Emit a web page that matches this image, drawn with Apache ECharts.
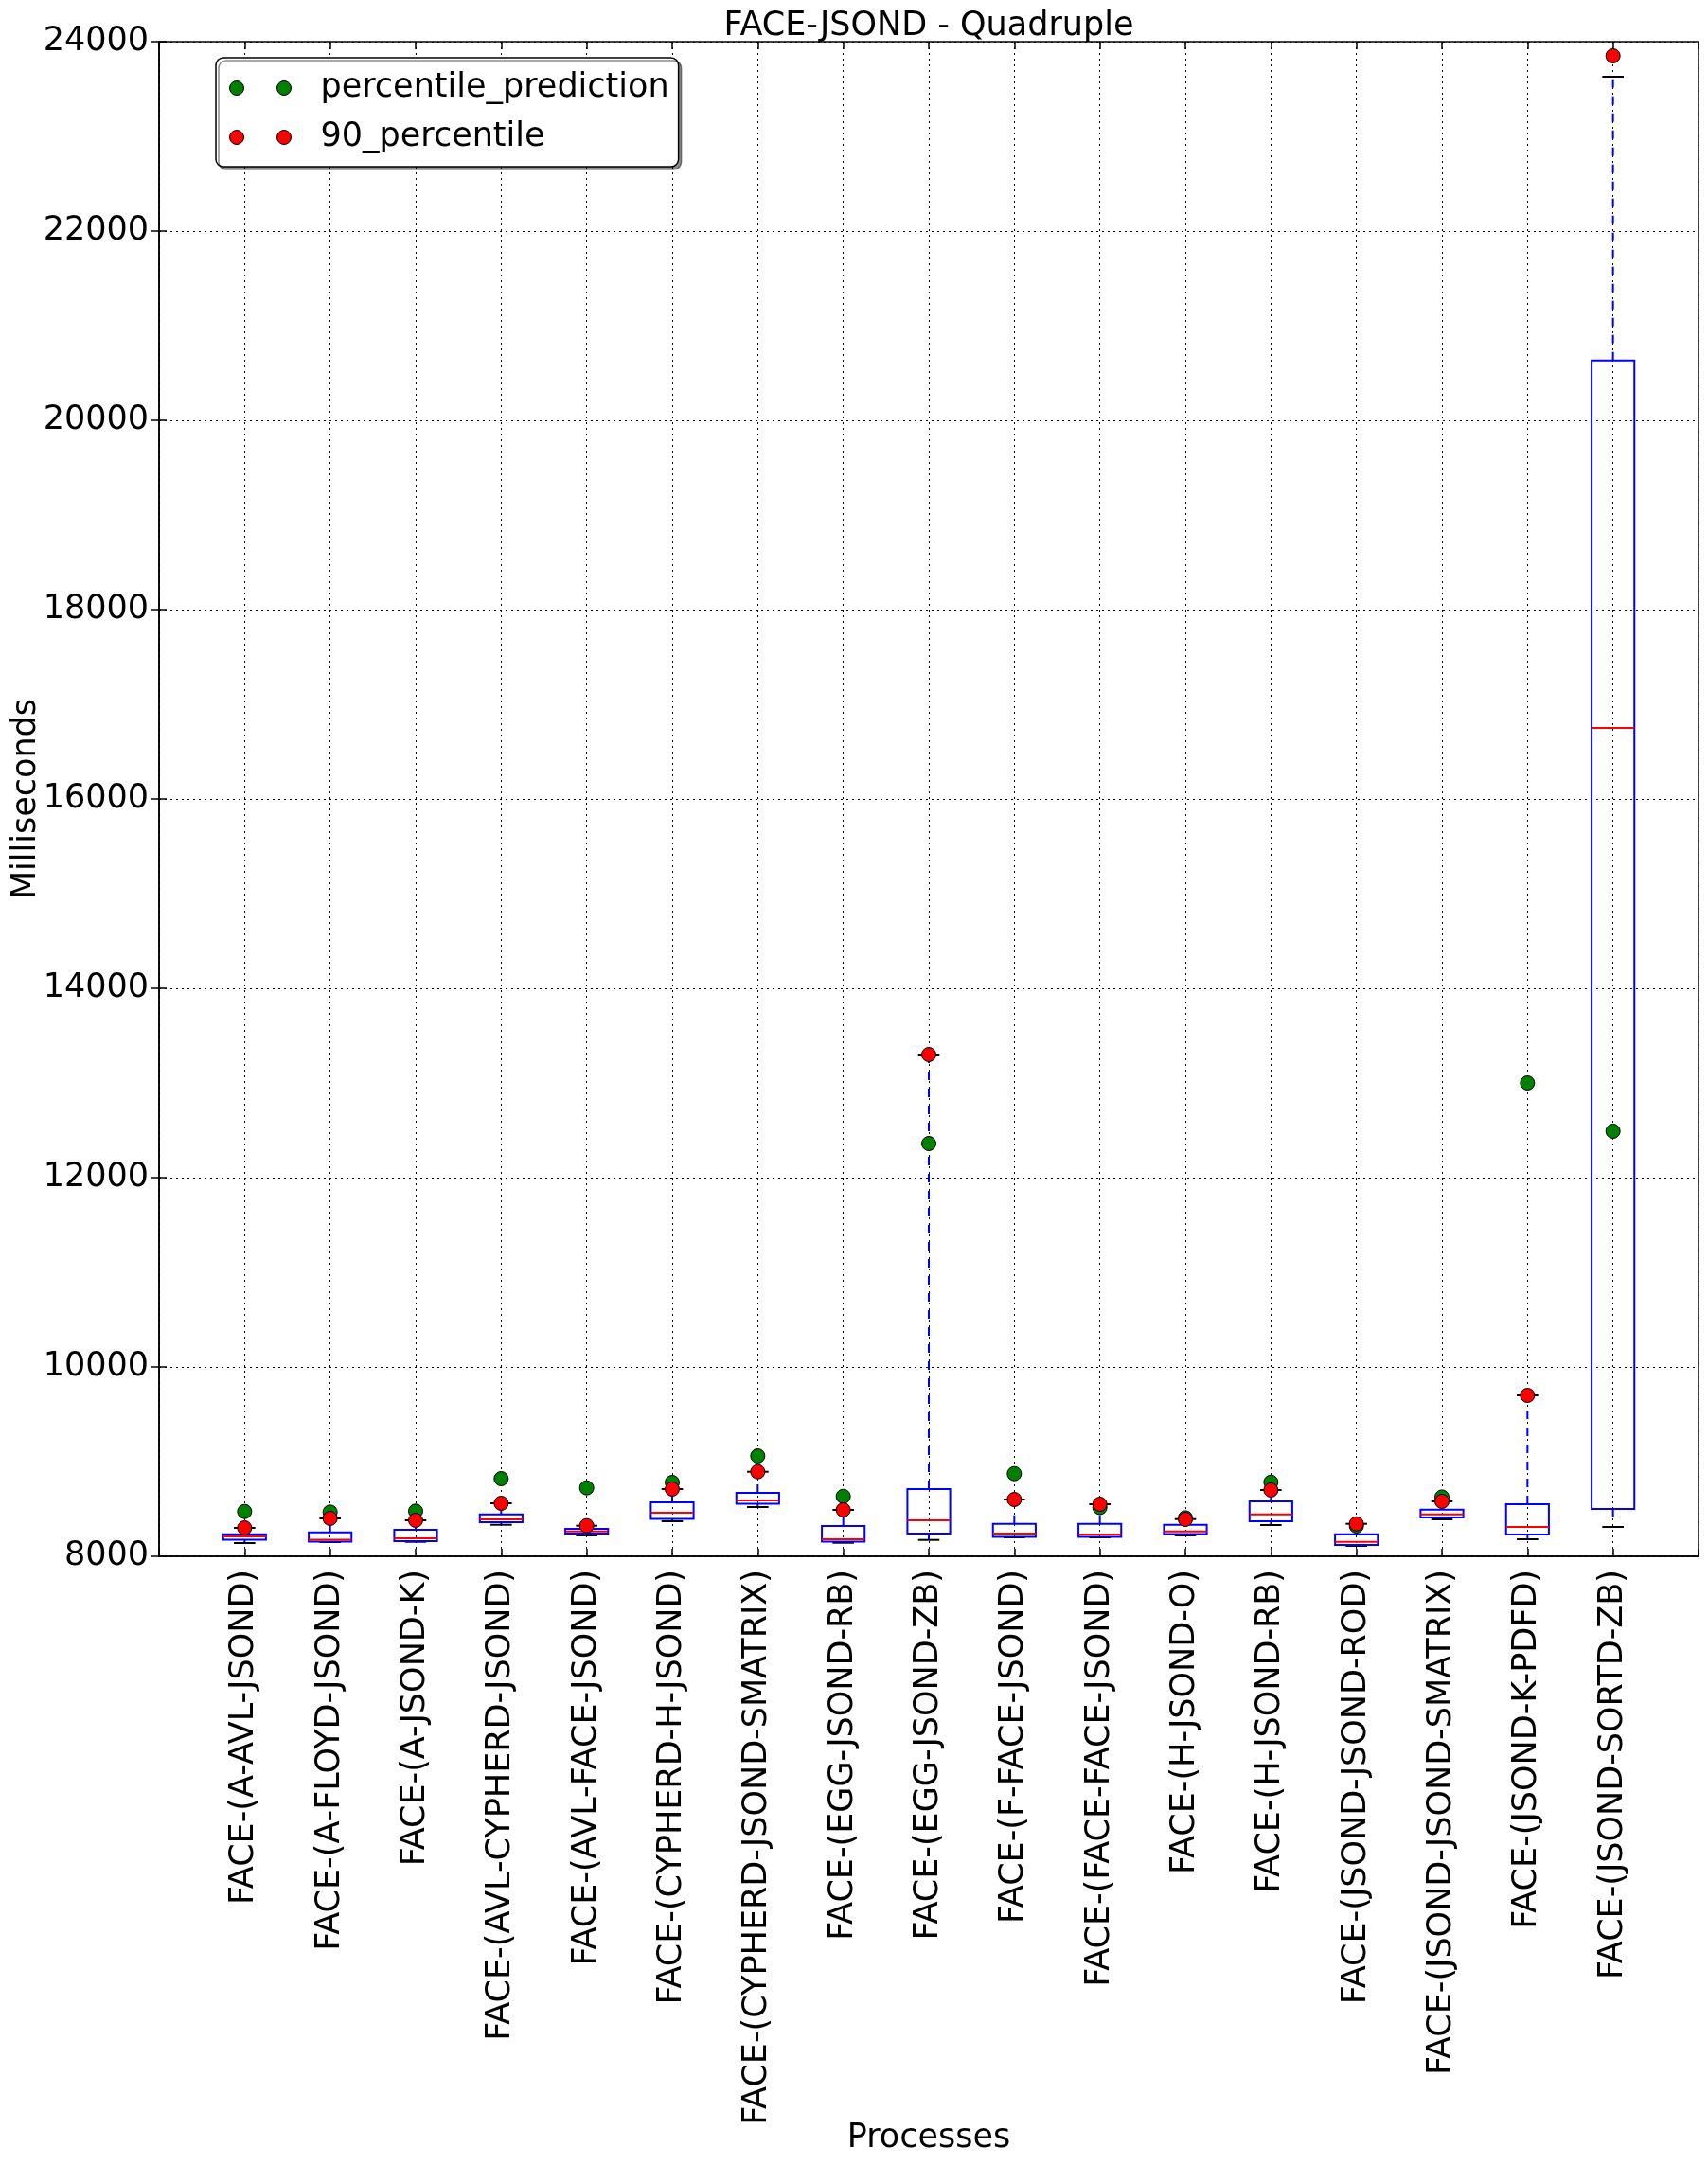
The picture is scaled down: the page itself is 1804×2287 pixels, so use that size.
<!DOCTYPE html>
<html>
<head>
<meta charset="utf-8">
<script src="https://cdn.jsdelivr.net/npm/echarts/dist/echarts.min.js"></script>
<style>
html,body{margin:0;padding:0;background:#fff;}
#chart{width:1804px;height:2287px;}
</style>
</head>
<body>
<div id="chart"></div>
<script>
var categories = ['FACE-(A-AVL-JSOND)','FACE-(A-FLOYD-JSOND)','FACE-(A-JSOND-K)','FACE-(AVL-CYPHERD-JSOND)','FACE-(AVL-FACE-JSOND)','FACE-(CYPHERD-H-JSOND)','FACE-(CYPHERD-JSOND-SMATRIX)','FACE-(EGG-JSOND-RB)','FACE-(EGG-JSOND-ZB)','FACE-(F-FACE-JSOND)','FACE-(FACE-FACE-JSOND)','FACE-(H-JSOND-O)','FACE-(H-JSOND-RB)','FACE-(JSOND-JSOND-ROD)','FACE-(JSOND-JSOND-SMATRIX)','FACE-(JSOND-K-PDFD)','FACE-(JSOND-SORTD-ZB)'];
var whiskerLow  = [8140, 8150, 8153, 8333, 8220, 8370, 8520, 8143, 8173, 8200, 8200, 8220, 8330, 8110, 8390, 8180, 8310];
var q1          = [8176, 8156, 8160, 8360, 8240, 8396, 8556, 8156, 8240, 8206, 8206, 8236, 8370, 8120, 8410, 8230, 8500];
var median      = [8210, 8176, 8190, 8390, 8263, 8460, 8590, 8180, 8380, 8240, 8230, 8263, 8443, 8153, 8443, 8310, 16750];
var q3          = [8233, 8253, 8280, 8443, 8290, 8570, 8670, 8320, 8710, 8343, 8343, 8333, 8580, 8233, 8493, 8550, 20633];
var whiskerHigh = [8300, 8400, 8380, 8560, 8323, 8710, 8893, 8490, 13300, 8600, 8550, 8393, 8700, 8343, 8580, 9700, 23630];
var prediction  = [8473, 8467, 8477, 8820, 8723, 8780, 9060, 8633, 12360, 8873, 8515, 8406, 8783, 8320, 8626, 13000, 12490];
var p90         = [8300, 8400, 8380, 8560, 8323, 8710, 8893, 8490, 13300, 8600, 8550, 8390, 8700, 8343, 8580, 9700, 23850];
var yTicks = [8000, 10000, 12000, 14000, 16000, 18000, 20000, 22000, 24000];

var FONT = 'DejaVu Sans';
var FS = 35;
var boxData = categories.map(function (c, i) {
  return [i + 1, whiskerLow[i], q1[i], median[i], q3[i], whiskerHigh[i]];
});
var predData = prediction.map(function (v, i) { return [i + 1, v]; });
var p90Data = p90.map(function (v, i) { return [i + 1, v]; });
var twoDots = 'path://M0,7.5A7.5,7.5,0,1,0,15,7.5A7.5,7.5,0,1,0,0,7.5Z M50,7.5A7.5,7.5,0,1,0,65,7.5A7.5,7.5,0,1,0,50,7.5Z';
var gridDot = [2, 4];

var chart = echarts.init(document.getElementById('chart'), null, {renderer: 'canvas'});
chart.setOption({
  animation: false,
  backgroundColor: '#fff',
  title: {
    text: 'FACE-JSOND - Quadruple',
    left: 981, top: 10, textAlign: 'center', padding: 0,
    textStyle: {fontFamily: FONT, fontSize: FS, fontWeight: 'normal', color: '#000'}
  },
  legend: {
    orient: 'vertical', left: 228, top: 61,
    itemWidth: 65, itemHeight: 15, itemGap: 12,
    padding: [12, 10, 11, 14],
    backgroundColor: '#fff', borderColor: '#000', borderWidth: 1.5, borderRadius: 8,
    shadowColor: 'rgba(0,0,0,0.45)', shadowOffsetX: 3, shadowOffsetY: 3, shadowBlur: 0,
    itemStyle: {borderWidth: 1, borderColor: '#000'},
    textStyle: {fontFamily: FONT, fontSize: FS, lineHeight: 40, color: '#000', padding: [0, 0, 0, 26]},
    data: [{name: 'percentile_prediction', icon: twoDots}, {name: '90_percentile', icon: twoDots}]
  },
  grid: {left: 168, right: 10, top: 44, bottom: 643, show: true, borderColor: '#000', borderWidth: 1.5, outerBoundsMode: 'none', containLabel: false},
  xAxis: [{
    type: 'value', min: 0, max: 18, interval: 1, position: 'bottom',
    name: 'Processes', nameLocation: 'middle', nameGap: 597, nameMoveOverlap: false,
    nameTextStyle: {fontFamily: FONT, fontSize: FS, color: '#000'},
    axisLine: {show: true, lineStyle: {color: '#000', width: 1.5}},
    axisTick: {show: true, inside: true, length: 8, lineStyle: {color: '#000', width: 1.5}},
    axisLabel: {
      rotate: 90, margin: 14, fontFamily: FONT, fontSize: FS, color: '#000',
      showMinLabel: true, showMaxLabel: true, hideOverlap: false,
      formatter: function (v) { var k = Math.round(v); return (k >= 1 && k <= categories.length) ? categories[k - 1] : ''; }
    },
    splitLine: {show: true, lineStyle: {color: '#000', width: 1, type: gridDot}}
  }, {
    type: 'value', min: 0, max: 18, interval: 1, position: 'top',
    axisLine: {show: false},
    axisTick: {show: true, inside: true, length: 8, lineStyle: {color: '#000', width: 1.5}},
    axisLabel: {show: false}, splitLine: {show: false}
  }],
  yAxis: [{
    type: 'value', min: yTicks[0], max: yTicks[yTicks.length - 1], interval: yTicks[1] - yTicks[0], position: 'left',
    name: 'Milliseconds', nameLocation: 'middle', nameGap: 123, nameMoveOverlap: false,
    nameTextStyle: {fontFamily: FONT, fontSize: FS, color: '#000'},
    axisLine: {show: true, lineStyle: {color: '#000', width: 1.5}},
    axisTick: {show: true, inside: true, length: 8, lineStyle: {color: '#000', width: 1.5}},
    axisLabel: {margin: 11, fontFamily: FONT, fontSize: FS, color: '#000', showMinLabel: true, showMaxLabel: true,
      formatter: function (v) { return String(v); }},
    splitLine: {show: true, lineStyle: {color: '#000', width: 1, type: gridDot}}
  }, {
    type: 'value', min: yTicks[0], max: yTicks[yTicks.length - 1], interval: yTicks[1] - yTicks[0], position: 'right',
    axisLine: {show: false},
    axisTick: {show: true, inside: true, length: 8, lineStyle: {color: '#000', width: 1.5}},
    axisLabel: {show: false}, splitLine: {show: false}
  }],
  series: [{
    type: 'custom', name: 'box', z: 2, silent: true,
    data: boxData,
    encode: {x: 0, y: [1, 2, 3, 4, 5]},
    renderItem: function (params, api) {
      var x = api.value(0);
      var lo = api.coord([x, api.value(1)]);
      var b1 = api.coord([x, api.value(2)]);
      var md = api.coord([x, api.value(3)]);
      var b3 = api.coord([x, api.value(4)]);
      var hi = api.coord([x, api.value(5)]);
      var w = api.size([1, 0])[0] * 0.5;
      var cw = w / 2;
      var wStyle = {stroke: '#0000ff', lineWidth: 2, lineDash: [9, 9], fill: null};
      var cStyle = {stroke: '#000', lineWidth: 2, fill: null};
      return {type: 'group', children: [
        {type: 'line', shape: {x1: b1[0], y1: b1[1], x2: lo[0], y2: lo[1]}, style: wStyle},
        {type: 'line', shape: {x1: b3[0], y1: b3[1], x2: hi[0], y2: hi[1]}, style: wStyle},
        {type: 'line', shape: {x1: lo[0] - cw / 2, y1: lo[1], x2: lo[0] + cw / 2, y2: lo[1]}, style: cStyle},
        {type: 'line', shape: {x1: hi[0] - cw / 2, y1: hi[1], x2: hi[0] + cw / 2, y2: hi[1]}, style: cStyle},
        {type: 'rect', shape: {x: b3[0] - w / 2, y: b3[1], width: w, height: b1[1] - b3[1]}, style: {stroke: '#0000ff', lineWidth: 2, fill: null}},
        {type: 'line', shape: {x1: md[0] - w / 2, y1: md[1], x2: md[0] + w / 2, y2: md[1]}, style: {stroke: '#ff0000', lineWidth: 2, fill: null}}
      ]};
    }
  }, {
    type: 'scatter', name: 'percentile_prediction', z: 3,
    symbol: 'circle', symbolSize: 15,
    itemStyle: {color: '#008000', borderColor: '#000', borderWidth: 1, opacity: 1},
    data: predData
  }, {
    type: 'scatter', name: '90_percentile', z: 4,
    symbol: 'circle', symbolSize: 15,
    itemStyle: {color: '#ff0000', borderColor: '#000', borderWidth: 1, opacity: 1},
    data: p90Data
  }]
});
</script>
</body>
</html>
